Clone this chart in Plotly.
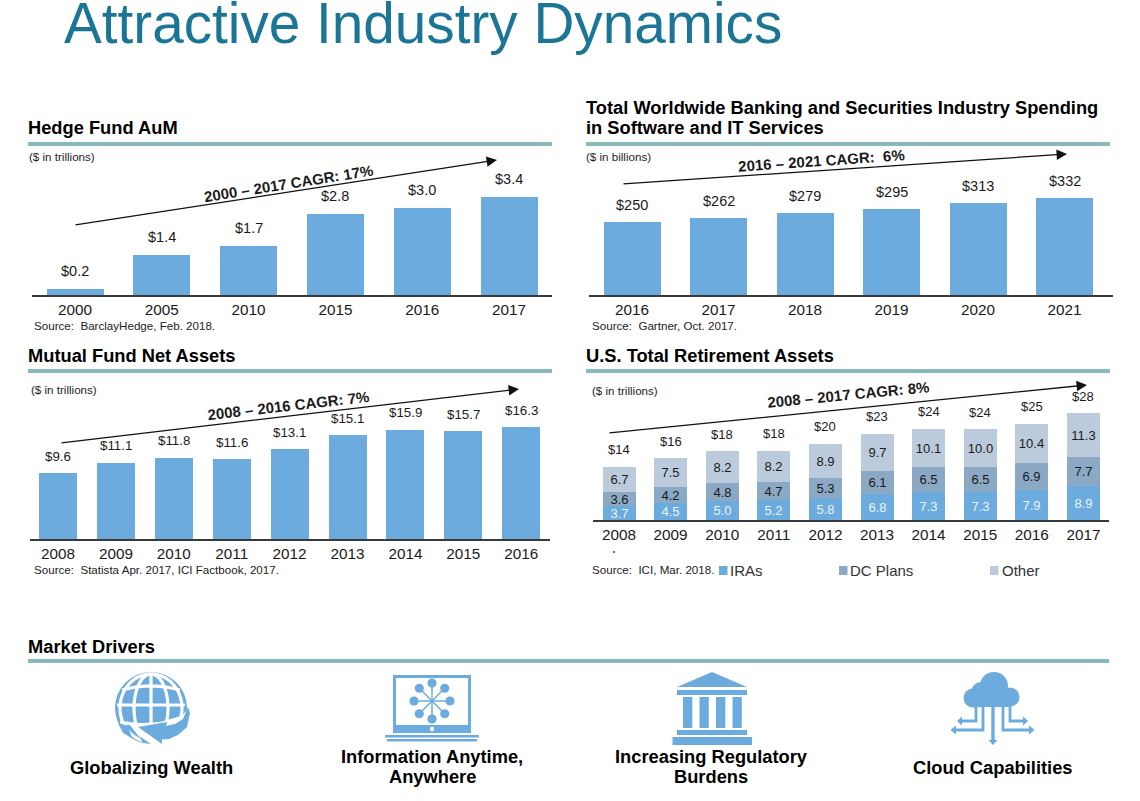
import math
import plotly.graph_objects as go

W, H = 1140, 801
FONT = "Liberation Sans"
TEAL = "#8ab9bc"
TITLE = "#1b7596"
BLUE = "#6cabdd"
DC = "#8ba9c4"
OTHER = "#bccbdc"
INK = "#1a1a1a"

# ---------- data ----------
hedge_years = ["2000", "2005", "2010", "2015", "2016", "2017"]
hedge_values = [0.2, 1.4, 1.7, 2.8, 3.0, 3.4]
hedge_labels = ["$0.2", "$1.4", "$1.7", "$2.8", "$3.0", "$3.4"]

spend_years = ["2016", "2017", "2018", "2019", "2020", "2021"]
spend_values = [250, 262, 279, 295, 313, 332]
spend_labels = ["$250", "$262", "$279", "$295", "$313", "$332"]

mutual_years = ["2008", "2009", "2010", "2011", "2012", "2013", "2014", "2015", "2016"]
mutual_values = [9.6, 11.1, 11.8, 11.6, 13.1, 15.1, 15.9, 15.7, 16.3]
mutual_labels = ["$9.6", "$11.1", "$11.8", "$11.6", "$13.1", "$15.1", "$15.9", "$15.7", "$16.3"]

ret_years = ["2008", "2009", "2010", "2011", "2012", "2013", "2014", "2015", "2016", "2017"]
ret_iras = [3.7, 4.5, 5.0, 5.2, 5.8, 6.8, 7.3, 7.3, 7.9, 8.9]
ret_dc = [3.6, 4.2, 4.8, 4.7, 5.3, 6.1, 6.5, 6.5, 6.9, 7.7]
ret_other = [6.7, 7.5, 8.2, 8.2, 8.9, 9.7, 10.1, 10.0, 10.4, 11.3]
ret_labels = ["$14", "$16", "$18", "$18", "$20", "$23", "$24", "$24", "$25", "$28"]


def X(p):
    return p / W


def Y(p):
    return 1 - p / H


fig = go.Figure()
shapes = []
annos = []


def text(x, y, s, size, color=INK, bold=False, anchor="left", angle=0, align=None):
    if anchor == "left":
        x -= 1
    annos.append(dict(
        xref="paper", yref="paper", x=X(x), y=Y(y), text=f"<b>{s}</b>" if bold else s,
        showarrow=False, xanchor=anchor, yanchor="middle", textangle=angle,
        align=align or anchor, borderpad=0,
        font=dict(family=FONT, size=size, color=color),
    ))


def rect(x0, y0, x1, y1, color):
    shapes.append(dict(type="rect", xref="paper", yref="paper", x0=X(x0), x1=X(x1),
                       y0=Y(y0), y1=Y(y1), fillcolor=color, line_width=0))


def circle(cx, cy, r, color):
    shapes.append(dict(type="circle", xref="paper", yref="paper", x0=X(cx - r), x1=X(cx + r),
                       y0=Y(cy - r), y1=Y(cy + r), fillcolor=color, line_width=0))


def poly(points, fill=None, stroke=None, width=0, closed=True):
    d = "M" + " L".join(f"{X(a):.5f},{Y(b):.5f}" for a, b in points) + (" Z" if closed else "")
    s = dict(type="path", xref="paper", yref="paper", path=d, line=dict(width=0))
    if fill:
        s["fillcolor"] = fill
    if stroke:
        s["line"] = dict(color=stroke, width=width)
    shapes.append(s)


def arrow(x0, y0, x1, y1):
    annos.append(dict(
        xref="paper", yref="paper", x=X(x1), y=Y(y1), axref="pixel", ayref="pixel",
        ax=x0 - x1, ay=y0 - y1, text="", showarrow=True, arrowhead=2, arrowsize=1.6,
        arrowwidth=1.3, arrowcolor="#111111", standoff=0,
    ))


def panel(idx, left, right, base, top, c0, step, bar_px, px_per_unit):
    """Set up an axis pair whose plot box sits at the given pixel rectangle."""
    suffix = "" if idx == 1 else str(idx)
    lo = (left - c0) / step
    hi = (right - c0) / step
    fig.layout[f"xaxis{suffix}"] = dict(
        domain=[X(left), X(right)], type="category", range=[lo, hi], anchor=f"y{suffix}",
        showline=True, linecolor="#3a3a3a", linewidth=2, ticks="", showgrid=False,
        tickfont=dict(family=FONT, size=15.3, color=INK), fixedrange=True,
    )
    fig.layout[f"yaxis{suffix}"] = dict(
        domain=[Y(base), Y(top)], range=[0, (base - top) / px_per_unit], anchor=f"x{suffix}",
        visible=False, fixedrange=True,
    )
    return f"x{suffix}", f"y{suffix}", bar_px / step


def totals(xa, ya, ys, labels, size, shift=17):
    # positions on a category axis are category indexes
    for i, (v, l) in enumerate(zip(ys, labels)):
        annos.append(dict(xref=xa, yref=ya, x=i, y=v, text=l, showarrow=False, yshift=shift,
                          xanchor="center", yanchor="middle",
                          font=dict(family=FONT, size=size, color=INK)))


# ---------- panel 1: hedge funds ----------
xa, ya, bw = panel(1, 32, 552, 295, 150, 75, 86.8, 57, 28.9)
fig.add_bar(x=hedge_years, y=hedge_values, width=bw, marker=dict(color=BLUE, line_width=0),
            xaxis=xa, yaxis=ya, showlegend=False)
totals(xa, ya, hedge_values, hedge_labels, 14.5, shift=18)

# ---------- panel 2: spending ----------
xa, ya, bw = panel(2, 589, 1113, 295, 150, 632, 86.5, 57, 0.2925)
fig.add_bar(x=spend_years, y=spend_values, width=bw, marker=dict(color=BLUE, line_width=0),
            xaxis=xa, yaxis=ya, showlegend=False)
totals(xa, ya, spend_values, spend_labels, 14.5)

# ---------- panel 3: mutual funds ----------
xa, ya, bw = panel(3, 30, 550, 539, 400, 58, 57.9, 38, 6.87)
fig.add_bar(x=mutual_years, y=mutual_values, width=bw, marker=dict(color=BLUE, line_width=0),
            xaxis=xa, yaxis=ya, showlegend=False)
totals(xa, ya, mutual_values, mutual_labels, 13.3)

# ---------- panel 4: retirement ----------
xa, ya, bw = panel(4, 593, 1109, 520, 390, 619, 51.6, 33, 3.82)
for name, vals, col, tcol in [("IRAs", ret_iras, BLUE, "#eaf3fb"),
                              ("DC Plans", ret_dc, DC, INK),
                              ("Other", ret_other, OTHER, INK)]:
    fig.add_bar(x=ret_years, y=vals, name=name, width=bw, marker=dict(color=col, line_width=0),
                xaxis=xa, yaxis=ya, showlegend=False, text=[f"{v:.1f}" for v in vals],
                textposition="inside", insidetextanchor="middle", constraintext="none",
                textangle=0, textfont=dict(family=FONT, size=13, color=tcol))
ret_totals = [a + b + c for a, b, c in zip(ret_iras, ret_dc, ret_other)]
totals(xa, ya, ret_totals, ret_labels, 13)

# ---------- headers and rules ----------
text(64, 24, "Attractive Industry Dynamics", 56.7, color=TITLE)
HEAD = 18.3
text(28, 128, "Hedge Fund AuM", HEAD, bold=True, color="#000")
text(586, 107.5, "Total Worldwide Banking and Securities Industry Spending", HEAD, bold=True, color="#000")
text(586, 128, "in Software and IT Services", HEAD, bold=True, color="#000")
text(28, 355.5, "Mutual Fund Net Assets", HEAD, bold=True, color="#000")
text(586, 355.5, "U.S. Total Retirement Assets", HEAD, bold=True, color="#000")
text(28, 646.5, "Market Drivers", HEAD, bold=True, color="#000")
rect(28, 142, 552, 146, TEAL)
rect(586, 142, 1110, 146, TEAL)
rect(28, 369, 552, 373, TEAL)
rect(586, 369, 1110, 373, TEAL)
rect(28, 659, 1109, 663, TEAL)

SMALL = 11.6
text(29, 156, "($ in trillions)", SMALL, color="#222")
text(586, 156, "($ in billions)", SMALL, color="#222")
text(31, 389.5, "($ in trillions)", SMALL, color="#222")
text(592, 390.5, "($ in trillions)", SMALL, color="#222")
text(34, 325.5, "Source:  BarclayHedge, Feb. 2018.", SMALL, color="#222")
text(592, 325.5, "Source:  Gartner, Oct. 2017.", SMALL, color="#222")
text(34, 569.5, "Source:  Statista Apr. 2017, ICI Factbook, 2017.", SMALL, color="#222")
text(592, 569.5, "Source:  ICI, Mar. 2018.", SMALL, color="#222")

# legend of panel 4
for sx, tx, lab, col in [(719, 730, "IRAs", BLUE), (839, 850, "DC Plans", DC), (990, 1002, "Other", OTHER)]:
    rect(sx, 566, sx + 8.5, 575, col)
    text(tx, 570.5, lab, 15, color="#333")
circle(614, 552, 1, "#2030d0")

# CAGR arrows and labels
arrow(74, 225, 497, 160)
text(288, 183, "2000 – 2017 CAGR: 17%", 15, bold=True, anchor="center", angle=-9)
arrow(622, 184, 1067, 154)
text(821, 160, "2016 – 2021 CAGR:  6%", 15, bold=True, anchor="center", angle=-4)
arrow(60, 443, 519, 389)
text(288, 405, "2008 – 2016 CAGR: 7%", 15, bold=True, anchor="center", angle=-6.5)
arrow(608, 433, 1087, 385)
text(848, 394, "2008 – 2017 CAGR: 8%", 15, bold=True, anchor="center", angle=-5.5)

# ---------- market driver captions ----------
CAP = 18.3
text(151, 767, "Globalizing Wealth", CAP, bold=True, anchor="center", color="#000")
text(432, 756, "Information Anytime,", CAP, bold=True, anchor="center", color="#000")
text(432, 776, "Anywhere", CAP, bold=True, anchor="center", color="#000")
text(711, 756, "Increasing Regulatory", CAP, bold=True, anchor="center", color="#000")
text(711, 776, "Burdens", CAP, bold=True, anchor="center", color="#000")
text(992, 767, "Cloud Capabilities", CAP, bold=True, anchor="center", color="#000")

# ---------- icon: globe ----------
gx, gy, gr = 151, 708, 36
circle(gx, gy, gr, BLUE)
n = 40
for rx in (0, 17, 31):
    for sgn in ((1, -1) if rx else (1,)):
        poly([(gx + sgn * rx * math.cos(-math.pi / 2 + math.pi * i / n),
               gy + (gr - 2) * math.sin(-math.pi / 2 + math.pi * i / n)) for i in range(n + 1)],
             stroke="white", width=3.2, closed=False)
for dy, bow in ((-18, 4), (-3, 0), (14, -3)):
    half = math.sqrt((gr - 2) ** 2 - dy ** 2)
    poly([(gx - half + 2 * half * i / 20,
           gy + dy - bow * (1 - ((i - 10) / 10) ** 2)) for i in range(21)],
         stroke="white", width=3.2, closed=False)
# white gap and arrow at the lower right
swoosh = [(188, 707), (190, 713), (187, 727), (178, 735), (169, 739), (162, 739.5), (162, 744),
          (138, 727), (167, 722), (166, 726), (175, 724), (183, 719)]
poly([(129, 724), (148, 748), (165, 750), (196, 725), (194, 704), (181, 716), (160, 722)], fill="white")
poly(swoosh, fill=BLUE)
poly([(132, 738), (123, 733), (118, 723), (128, 726)], fill=BLUE)
poly([(139, 736), (151, 744), (143, 743)], fill=BLUE)

# ---------- icon: laptop ----------
rect(393, 675, 471, 733, BLUE)
rect(396, 678, 468, 725, "white")
circle(432, 729, 2.2, "white")
rect(385, 735, 479, 737.5, BLUE)
rect(387, 739, 477, 741.5, BLUE)
nx, ny = 432, 701
for k in range(8):
    a = k * math.pi / 4
    poly([(nx, ny), (nx + 18 * math.cos(a), ny + 18 * math.sin(a))], stroke=BLUE, width=1.5, closed=False)
    circle(nx + 18 * math.cos(a), ny + 18 * math.sin(a), 4.6, BLUE)

# ---------- icon: bank ----------
poly([(712, 672), (747, 687), (677, 687)], fill=BLUE)
rect(677, 690, 747, 695, BLUE)
for cx0 in (683, 699.5, 716, 732.5):
    rect(cx0, 697, cx0 + 9.3, 728, BLUE)
rect(677, 730, 747, 735, BLUE)
rect(672.5, 737, 752, 745, BLUE)

# ---------- icon: cloud ----------
for cx, cy, r in ((994, 686, 14), (981, 692, 10), (973, 698, 9.5), (1010, 697, 9.5)):
    circle(cx, cy, r, BLUE)
rect(973, 692, 1010, 707, BLUE)
poly([(993, 706), (993, 741)], stroke=BLUE, width=3.4, closed=False)
poly([(983, 705), (983, 730), (955, 730)], stroke=BLUE, width=2.8, closed=False)
poly([(1003, 705), (1003, 730), (1030, 730)], stroke=BLUE, width=2.8, closed=False)
poly([(976, 705), (976, 721), (961, 721)], stroke=BLUE, width=2.8, closed=False)
poly([(1010, 705), (1010, 721), (1024, 721)], stroke=BLUE, width=2.8, closed=False)
poly([(988.5, 740), (997.5, 740), (993, 745)], fill=BLUE)
poly([(956, 725.5), (956, 734.5), (950.5, 730)], fill=BLUE)
poly([(1029, 725.5), (1029, 734.5), (1034.5, 730)], fill=BLUE)
poly([(962, 716.5), (962, 725.5), (957, 721)], fill=BLUE)
poly([(1023, 716.5), (1023, 725.5), (1028, 721)], fill=BLUE)

fig.update_layout(
    width=W, height=H, margin=dict(l=0, r=0, t=0, b=0), paper_bgcolor="white",
    plot_bgcolor="white", barmode="stack", bargap=0, showlegend=False,
    shapes=shapes, annotations=annos, font=dict(family=FONT),
)
fig.write_html("out.html", config={"displayModeBar": False},
               post_script="document.body.style.margin='0';document.documentElement.style.overflow='hidden';")
